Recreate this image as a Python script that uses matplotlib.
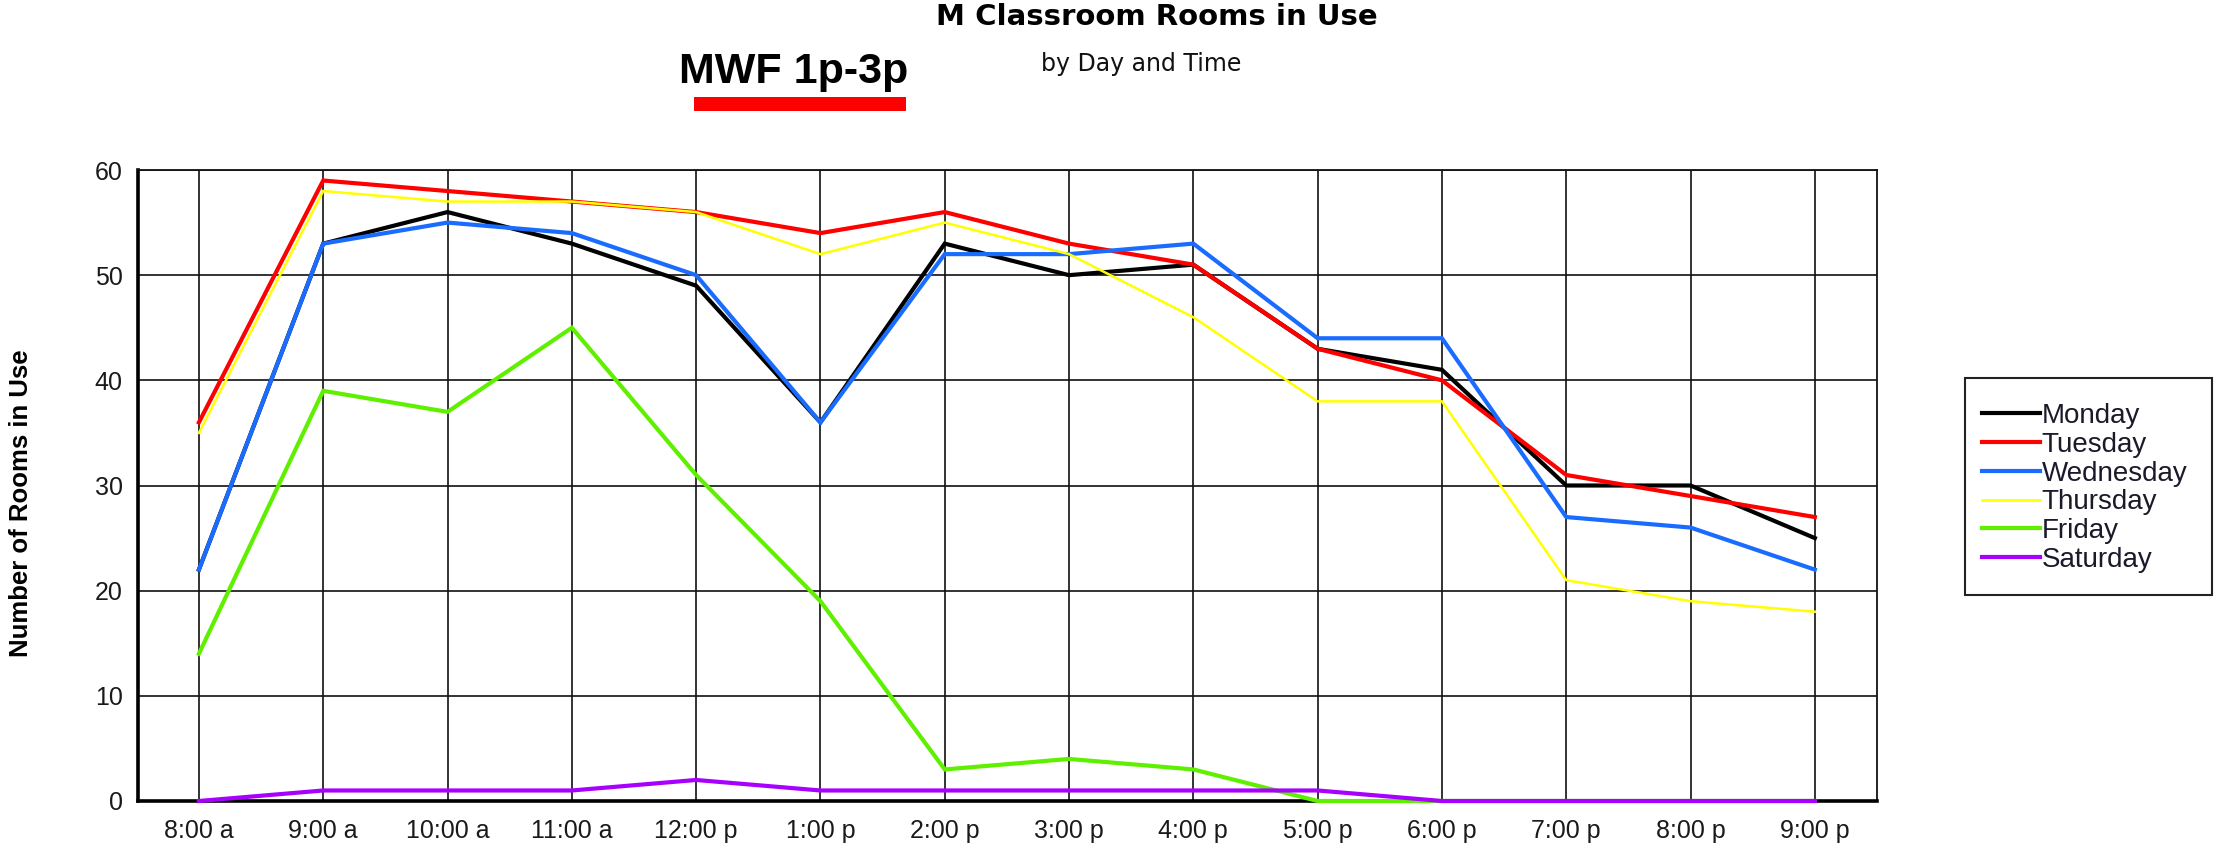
import matplotlib
matplotlib.use("Agg")
import matplotlib.pyplot as plt
from matplotlib.patches import Rectangle

times = ["8:00 a", "9:00 a", "10:00 a", "11:00 a", "12:00 p", "1:00 p", "2:00 p",
         "3:00 p", "4:00 p", "5:00 p", "6:00 p", "7:00 p", "8:00 p", "9:00 p"]

monday    = [22, 53, 56, 53, 49, 36, 53, 50, 51, 43, 41, 30, 30, 25]
tuesday   = [36, 59, 58, 57, 56, 54, 56, 53, 51, 43, 40, 31, 29, 27]
wednesday = [22, 53, 55, 54, 50, 36, 52, 52, 53, 44, 44, 27, 26, 22]
thursday  = [35, 58, 57, 57, 56, 52, 55, 52, 46, 38, 38, 21, 19, 18]
friday    = [14, 39, 37, 45, 31, 19, 3, 4, 3, 0, 0, 0, 0, 0]
saturday  = [0, 1, 1, 1, 2, 1, 1, 1, 1, 1, 0, 0, 0, 0]

series_names = ["Monday", "Tuesday", "Wednesday", "Thursday", "Friday", "Saturday"]
series_values = [monday, tuesday, wednesday, thursday, friday, saturday]
colors = ["#000000", "#ff0000", "#1a6cff", "#ffff00", "#5ff000", "#a800ff"]
widths = [3.0, 3.0, 3.0, 1.8, 3.0, 3.0]

W, H = 2236, 850
fig = plt.figure(figsize=(W / 100, H / 100), dpi=100)
fig.patch.set_facecolor("white")

ax = fig.add_axes([138 / W, 1 - 801 / H, (1877 - 138) / W, (801 - 170) / H])
x = list(range(len(times)))
lines = []
for name, vals, c, lw in zip(series_names, series_values, colors, widths):
    ln, = ax.plot(x, vals, color=c, lw=lw, label=name, clip_on=False, zorder=3,
                  solid_joinstyle="miter")
    lines.append(ln)

ax.set_xlim(-0.49, 13.5)
ax.set_ylim(0, 60)
ax.set_xticks(x)
ax.set_xticklabels(times)
ax.set_yticks(range(0, 61, 10))
ax.grid(True, color="#111111", lw=1.2, zorder=1)
ax.set_axisbelow(True)
ax.tick_params(axis="both", length=0, labelsize=18, labelcolor="#1a1a1a")
ax.tick_params(axis="x", pad=13)
ax.tick_params(axis="y", pad=11)
for lab in ax.get_xticklabels() + ax.get_yticklabels():
    lab.set_fontfamily("Liberation Sans")

for side in ["left", "bottom"]:
    ax.spines[side].set_linewidth(2.6)
    ax.spines[side].set_color("black")
for side in ["top", "right"]:
    ax.spines[side].set_linewidth(1.3)
    ax.spines[side].set_color("#111111")
for sp in ax.spines.values():
    sp.set_zorder(2)

ax.set_ylabel("Number of Rooms in Use", fontsize=18.5, fontweight="bold",
              family="Liberation Sans")
ax.yaxis.set_label_coords((33 - 138) / (1877 - 138), (801 - 503) / (801 - 170))

fig.text(1157 / W, 1 - 25 / H, "M Classroom Rooms in Use", ha="center", va="baseline",
         fontsize=21, fontweight="bold", family="DejaVu Sans")
fig.text(1141 / W, 1 - 71 / H, "by Day and Time", ha="center", va="baseline",
         fontsize=17, family="DejaVu Sans", color="#111111")
fig.text(794 / W, 1 - 83 / H, "MWF 1p-3p", ha="center", va="baseline",
         fontsize=31, fontweight="bold", family="Liberation Sans")
fig.patches.append(Rectangle((694 / W, 1 - 111 / H), (906 - 694) / W, 14 / H,
                             transform=fig.transFigure, facecolor="#ff0000",
                             edgecolor="none"))

# legend frame
fig.patches.append(Rectangle((1965 / W, 1 - 595 / H), (2212 - 1965) / W, (595 - 378) / H,
                             transform=fig.transFigure, facecolor="white",
                             edgecolor="#222222", lw=1.5, zorder=0))
leg = fig.legend(handles=lines, labels=series_names, loc="upper left",
                 bbox_to_anchor=(1982 / W, 1 - 403 / H), frameon=False,
                 prop={"family": "Liberation Sans", "size": 20},
                 handlelength=2.1, handletextpad=0.05, labelspacing=0.1,
                 borderpad=0, borderaxespad=0)
for t in leg.get_texts():
    t.set_color("#1a1a2a")

fig.savefig("out.png", dpi=100)
